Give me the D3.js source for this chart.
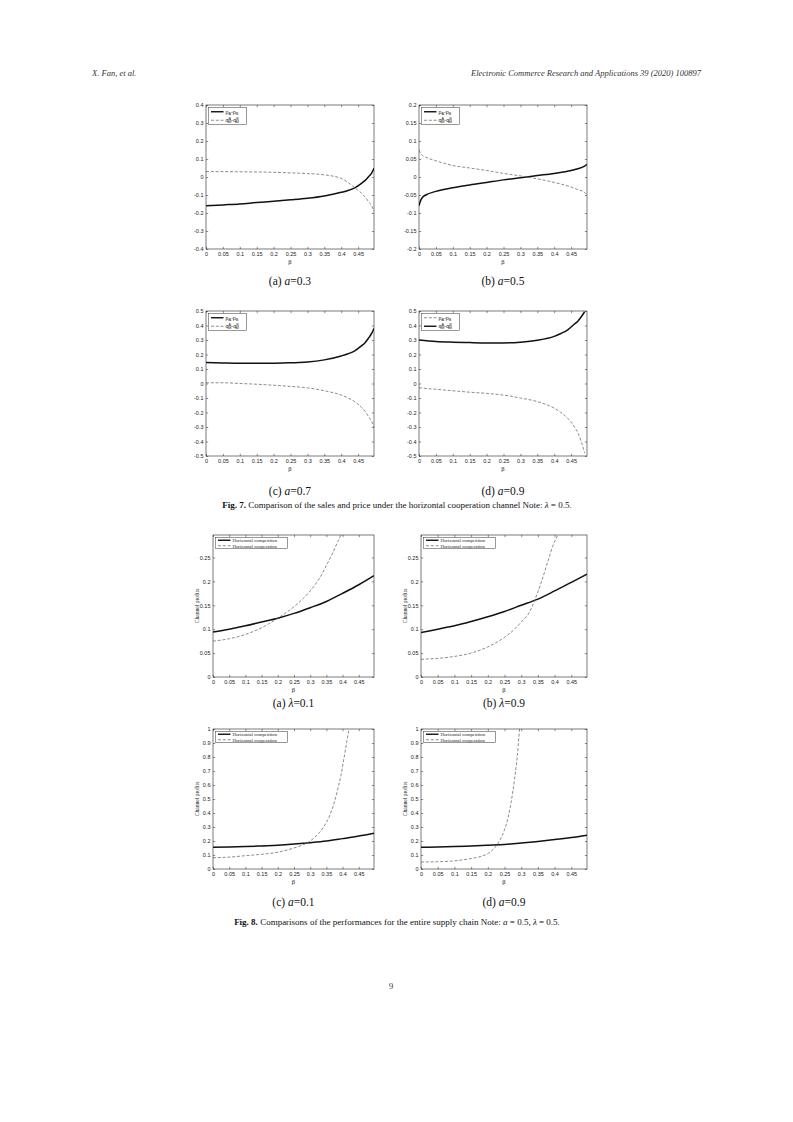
<!DOCTYPE html>
<html>
<head>
<meta charset="utf-8">
<script src="https://cdn.jsdelivr.net/npm/d3@7"></script>
<style>
  body { margin: 0; background: #fff; }
  svg { display: block; }
</style>
</head>
<body>
<div id="page"></div>
<script>
// ---- tick values ----
const xTicks = [0, 0.05, 0.1, 0.15, 0.2, 0.25, 0.3, 0.35, 0.4, 0.45];
const yTicks7a = [-0.4, -0.3, -0.2, -0.1, 0, 0.1, 0.2, 0.3, 0.4];
const yTicks7b = [-0.2, -0.15, -0.1, -0.05, 0, 0.05, 0.1, 0.15, 0.2];
const yTicks7cd = [-0.5, -0.4, -0.3, -0.2, -0.1, 0, 0.1, 0.2, 0.3, 0.4, 0.5];
const yTicks8ab = [0, 0.05, 0.1, 0.15, 0.2, 0.25];
const yTicks8cd = [0, 0.1, 0.2, 0.3, 0.4, 0.5, 0.6, 0.7, 0.8, 0.9, 1];

// ---- Fig. 7 data (beta -> difference) ----
const beta7 = [0, 0.05, 0.1, 0.15, 0.2, 0.25, 0.3, 0.35, 0.4, 0.42, 0.44, 0.46, 0.47, 0.48, 0.49, 0.497];
const price7a = [-0.16, -0.155, -0.15, -0.142, -0.135, -0.127, -0.118, -0.105, -0.085, -0.075, -0.06, -0.035, -0.02, 0, 0.022, 0.048];
const sales7a = [0.03, 0.03, 0.029, 0.028, 0.026, 0.023, 0.019, 0.012, -0.008, -0.03, -0.06, -0.09, -0.11, -0.135, -0.16, -0.19];

const beta7b = [0, 0.005, 0.01, 0.02, 0.05, 0.1, 0.15, 0.2, 0.25, 0.3, 0.35, 0.4, 0.45, 0.47, 0.49, 0.497];
const price7b = [-0.08, -0.065, -0.057, -0.05, -0.04, -0.03, -0.022, -0.015, -0.008, -0.002, 0.004, 0.01, 0.018, 0.023, 0.03, 0.035];
const sales7b = [0.075, 0.065, 0.06, 0.055, 0.045, 0.032, 0.025, 0.018, 0.01, 0.003, -0.005, -0.015, -0.028, -0.035, -0.043, -0.05];

const price7c = [0.145, 0.142, 0.14, 0.14, 0.14, 0.143, 0.148, 0.163, 0.19, 0.205, 0.225, 0.26, 0.28, 0.31, 0.345, 0.38];
const sales7c = [0.005, 0.005, 0, -0.005, -0.012, -0.02, -0.03, -0.05, -0.08, -0.1, -0.125, -0.165, -0.19, -0.225, -0.26, -0.3];

const beta7d = [0, 0.05, 0.1, 0.15, 0.2, 0.25, 0.3, 0.35, 0.4, 0.42, 0.44, 0.46, 0.47, 0.48, 0.49];
const price7d = [-0.03, -0.04, -0.05, -0.06, -0.068, -0.08, -0.1, -0.125, -0.17, -0.2, -0.24, -0.3, -0.34, -0.4, -0.48];
const sales7d = [0.3, 0.29, 0.285, 0.282, 0.28, 0.28, 0.285, 0.298, 0.325, 0.345, 0.37, 0.41, 0.43, 0.46, 0.495];

// ---- Fig. 8 data (beta -> channel profits) ----
const beta8 = [0, 0.05, 0.1, 0.15, 0.2, 0.25, 0.3, 0.35, 0.4, 0.45, 0.497];
const comp8a = [0.094, 0.1, 0.107, 0.115, 0.123, 0.133, 0.145, 0.158, 0.175, 0.193, 0.212];
const coopBeta8a = [0, 0.05, 0.1, 0.15, 0.2, 0.25, 0.3, 0.33, 0.355, 0.37, 0.385, 0.395];
const coop8a = [0.075, 0.08, 0.089, 0.103, 0.123, 0.147, 0.18, 0.208, 0.24, 0.26, 0.283, 0.297];

const comp8b = [0.093, 0.1, 0.107, 0.116, 0.126, 0.137, 0.15, 0.163, 0.18, 0.198, 0.215];
const coopBeta8b = [0, 0.05, 0.1, 0.15, 0.2, 0.25, 0.28, 0.3, 0.325, 0.34, 0.36, 0.38, 0.395, 0.41];
const coop8b = [0.037, 0.039, 0.043, 0.05, 0.063, 0.083, 0.1, 0.115, 0.136, 0.16, 0.198, 0.242, 0.275, 0.297];

const comp8c = [0.155, 0.157, 0.16, 0.165, 0.17, 0.178, 0.188, 0.2, 0.217, 0.235, 0.255];
const coopBeta8c = [0, 0.05, 0.1, 0.15, 0.2, 0.25, 0.28, 0.3, 0.32, 0.34, 0.36, 0.375, 0.385, 0.395, 0.405, 0.413, 0.42];
const coop8c = [0.08, 0.085, 0.095, 0.105, 0.12, 0.15, 0.175, 0.2, 0.24, 0.295, 0.38, 0.48, 0.57, 0.67, 0.8, 0.91, 1.0];

const comp8d = [0.155, 0.157, 0.16, 0.165, 0.17, 0.175, 0.185, 0.197, 0.21, 0.225, 0.242];
const coopBeta8d = [0, 0.05, 0.1, 0.15, 0.18, 0.2, 0.22, 0.235, 0.25, 0.26, 0.27, 0.28, 0.288, 0.295];
const coop8d = [0.05, 0.052, 0.058, 0.075, 0.09, 0.11, 0.15, 0.2, 0.28, 0.36, 0.48, 0.64, 0.8, 1.0];

// ---- page ----
const W = 793, H = 1122;
const svg = d3.select("#page").append("svg")
    .attr("width", W)
    .attr("height", H)
    .style("background", "#fff");

const serif = "'Liberation Serif', 'DejaVu Serif', serif";
const sans = "'Liberation Sans', Arial, sans-serif";
const fmt = d => String(+d.toFixed(3));

// text with sub/superscripts: parts = [[text, kind, dx]]
function rich(sel, parts) {
    parts.forEach(([t, kind, dx]) => {
        let ts = sel.append("tspan").text(t);
        if (kind === "sub") ts.attr("baseline-shift", "-30%").attr("font-size", "70%");
        if (kind === "sup") ts.attr("baseline-shift", "45%").attr("font-size", "70%");
        if (dx) ts.attr("dx", dx);
    });
}

const pLabel = [["p", ""], ["A", "sub"], ["-p", ""], ["B", "sub"]];
const qLabel = [["q", ""], ["A", "sup"], ["M", "sub", -2.8], ["-q", ""], ["B", "sup"], ["M", "sub", -2.8]];

function drawPanel(p) {
    let g = svg.append("g");

    let x = d3.scaleLinear().domain([0, 0.497]).range([p.left, p.right]);
    let y = d3.scaleLinear().domain(p.yDomain).range([p.bottom, p.top]);

    let clipId = "clip" + p.id;
    svg.append("clipPath").attr("id", clipId)
        .append("rect")
        .attr("x", p.left).attr("y", p.top)
        .attr("width", p.right - p.left).attr("height", p.bottom - p.top);

    // axes, ticks pointing inwards on all sides
    let styleAxis = a => {
        a.select(".domain").remove();
        a.selectAll("line").attr("stroke", "#222").attr("stroke-width", 0.5);
        a.selectAll("text").attr("font-family", sans).attr("font-size", 5.5).attr("fill", "#222");
    };
    g.append("g").attr("transform", `translate(0,${p.bottom})`)
        .call(d3.axisBottom(x).tickValues(xTicks).tickSize(-2.2).tickPadding(3.5).tickFormat(fmt))
        .call(styleAxis);
    g.append("g").attr("transform", `translate(0,${p.top})`)
        .call(d3.axisTop(x).tickValues(xTicks).tickSize(-2.2).tickFormat(""))
        .call(styleAxis);
    g.append("g").attr("transform", `translate(${p.left},0)`)
        .call(d3.axisLeft(y).tickValues(p.yTicks).tickSize(-2.2).tickPadding(2.5).tickFormat(fmt))
        .call(styleAxis);
    g.append("g").attr("transform", `translate(${p.right},0)`)
        .call(d3.axisRight(y).tickValues(p.yTicks).tickSize(-2.2).tickFormat(""))
        .call(styleAxis);

    // curves
    let line = d3.line().x(d => x(d[0])).y(d => y(d[1])).curve(d3.curveMonotoneX);
    p.series.forEach(s => {
        g.append("path")
            .datum(d3.zip(s.beta, s.values))
            .attr("clip-path", `url(#${clipId})`)
            .attr("fill", "none")
            .attr("stroke", s.dashed ? "#6e6e6e" : "#111")
            .attr("stroke-width", s.dashed ? 0.8 : 1.5)
            .attr("stroke-dasharray", s.dashed ? "3,1.8" : null)
            .attr("d", line);
    });

    // plot box
    g.append("rect")
        .attr("x", p.left).attr("y", p.top)
        .attr("width", p.right - p.left).attr("height", p.bottom - p.top)
        .attr("fill", "none").attr("stroke", "#222").attr("stroke-width", 0.6);

    // legend
    let lg = g.append("g").attr("transform", `translate(${p.left + 2.5},${p.top + 2.5})`);
    lg.append("rect")
        .attr("width", p.legendW).attr("height", p.legendH)
        .attr("fill", "#fff").attr("stroke", "#333").attr("stroke-width", 0.5);
    let rowH = p.legendH / p.series.length;
    p.series.forEach((s, i) => {
        let cy = rowH * (i + 0.5);
        lg.append("line")
            .attr("x1", 2.5).attr("x2", 15).attr("y1", cy).attr("y2", cy)
            .attr("stroke", s.dashed ? "#6e6e6e" : "#111")
            .attr("stroke-width", s.dashed ? 0.8 : 1.4)
            .attr("stroke-dasharray", s.dashed ? "3,1.8" : null);
        let t = lg.append("text")
            .attr("x", 17).attr("y", cy + 1.8)
            .attr("font-family", p.legendFont).attr("font-size", p.legendSize).attr("fill", "#222");
        if (typeof s.label === "string") t.text(s.label);
        else rich(t, s.label);
    });

    // axis titles
    g.append("text")
        .attr("x", (p.left + p.right) / 2).attr("y", p.bottom + 15)
        .attr("text-anchor", "middle")
        .attr("font-family", serif).attr("font-size", 6.5).attr("fill", "#222")
        .text("β");
    if (p.ylabel) {
        g.append("text")
            .attr("transform", `translate(${p.left - 14},${(p.top + p.bottom) / 2}) rotate(-90)`)
            .attr("text-anchor", "middle")
            .attr("font-family", serif).attr("font-size", 5.6).attr("fill", "#222")
            .text(p.ylabel);
    }

    // sub-caption
    let cap = g.append("text")
        .attr("x", (p.left + p.right) / 2).attr("y", p.capY)
        .attr("text-anchor", "middle")
        .attr("font-family", serif).attr("font-size", 11.5).attr("fill", "#111");
    cap.append("tspan").text(p.cap[0]);
    cap.append("tspan").attr("font-style", "italic").text(p.cap[1]);
    cap.append("tspan").text(p.cap[2]);
}

// ---- header ----
svg.append("text").attr("x", 92).attr("y", 76)
    .attr("font-family", serif).attr("font-style", "italic").attr("font-size", 8.5).attr("fill", "#333")
    .text("X. Fan, et al.");
svg.append("text").attr("x", 701).attr("y", 76).attr("text-anchor", "end")
    .attr("font-family", serif).attr("font-style", "italic").attr("font-size", 8.5).attr("fill", "#333")
    .text("Electronic Commerce Research and Applications 39 (2020) 100897");

// ---- Fig. 7 ----
const f7 = {legendW: 38, legendH: 17, legendFont: sans, legendSize: 5.4};
drawPanel(Object.assign({}, f7, {
    id: "7a", left: 206, right: 374, top: 105, bottom: 249, capY: 285,
    yDomain: [-0.4, 0.4], yTicks: yTicks7a, cap: ["(a) ", "a", "=0.3"],
    series: [
        {beta: beta7, values: price7a, dashed: false, label: pLabel},
        {beta: beta7, values: sales7a, dashed: true, label: qLabel}
    ]
}));
drawPanel(Object.assign({}, f7, {
    id: "7b", left: 419, right: 587, top: 105, bottom: 249, capY: 285,
    yDomain: [-0.2, 0.2], yTicks: yTicks7b, cap: ["(b) ", "a", "=0.5"],
    series: [
        {beta: beta7b, values: price7b, dashed: false, label: pLabel},
        {beta: beta7b, values: sales7b, dashed: true, label: qLabel}
    ]
}));
drawPanel(Object.assign({}, f7, {
    id: "7c", left: 206, right: 374, top: 311, bottom: 456, capY: 495,
    yDomain: [-0.5, 0.5], yTicks: yTicks7cd, cap: ["(c) ", "a", "=0.7"],
    series: [
        {beta: beta7, values: price7c, dashed: false, label: pLabel},
        {beta: beta7, values: sales7c, dashed: true, label: qLabel}
    ]
}));
drawPanel(Object.assign({}, f7, {
    id: "7d", left: 419, right: 587, top: 311, bottom: 456, capY: 495,
    yDomain: [-0.5, 0.5], yTicks: yTicks7cd, cap: ["(d) ", "a", "=0.9"],
    series: [
        {beta: beta7d, values: price7d, dashed: true, label: pLabel},
        {beta: beta7d, values: sales7d, dashed: false, label: qLabel}
    ]
}));

function caption(y, parts) {
    let t = svg.append("text").attr("x", 397).attr("y", y).attr("text-anchor", "middle")
        .attr("font-family", serif).attr("font-size", 9).attr("fill", "#111");
    parts.forEach(([s, style]) => {
        let ts = t.append("tspan").text(s);
        if (style === "b") ts.attr("font-weight", "bold");
        if (style === "i") ts.attr("font-style", "italic");
    });
}
caption(508, [["Fig. 7.", "b"], [" Comparison of the sales and price under the horizontal cooperation channel Note: ", ""], ["λ", "i"], [" = 0.5.", ""]]);

// ---- Fig. 8 ----
const f8 = {legendW: 72, legendH: 11, legendFont: serif, legendSize: 4.8, ylabel: "Channel profits"};
const compLabel = "Horizontal competition", coopLabel = "Horizontal cooperation";
drawPanel(Object.assign({}, f8, {
    id: "8a", left: 213, right: 374, top: 535, bottom: 677, capY: 707,
    yDomain: [0, 0.297], yTicks: yTicks8ab, cap: ["(a) ", "λ", "=0.1"],
    series: [
        {beta: beta8, values: comp8a, dashed: false, label: compLabel},
        {beta: coopBeta8a, values: coop8a, dashed: true, label: coopLabel}
    ]
}));
drawPanel(Object.assign({}, f8, {
    id: "8b", left: 421, right: 587, top: 535, bottom: 677, capY: 707,
    yDomain: [0, 0.297], yTicks: yTicks8ab, cap: ["(b) ", "λ", "=0.9"],
    series: [
        {beta: beta8, values: comp8b, dashed: false, label: compLabel},
        {beta: coopBeta8b, values: coop8b, dashed: true, label: coopLabel}
    ]
}));
drawPanel(Object.assign({}, f8, {
    id: "8c", left: 213, right: 374, top: 729, bottom: 869, capY: 906,
    yDomain: [0, 1], yTicks: yTicks8cd, cap: ["(c) ", "a", "=0.1"],
    series: [
        {beta: beta8, values: comp8c, dashed: false, label: compLabel},
        {beta: coopBeta8c, values: coop8c, dashed: true, label: coopLabel}
    ]
}));
drawPanel(Object.assign({}, f8, {
    id: "8d", left: 421, right: 587, top: 729, bottom: 869, capY: 906,
    yDomain: [0, 1], yTicks: yTicks8cd, cap: ["(d) ", "a", "=0.9"],
    series: [
        {beta: beta8, values: comp8d, dashed: false, label: compLabel},
        {beta: coopBeta8d, values: coop8d, dashed: true, label: coopLabel}
    ]
}));
caption(925, [["Fig. 8.", "b"], [" Comparisons of the performances for the entire supply chain Note: ", ""], ["a", "i"], [" = 0.5, ", ""], ["λ", "i"], [" = 0.5.", ""]]);

// page number
svg.append("text").attr("x", 391).attr("y", 989).attr("text-anchor", "middle")
    .attr("font-family", serif).attr("font-size", 8.5).attr("fill", "#333")
    .text("9");
</script>
</body>
</html>
